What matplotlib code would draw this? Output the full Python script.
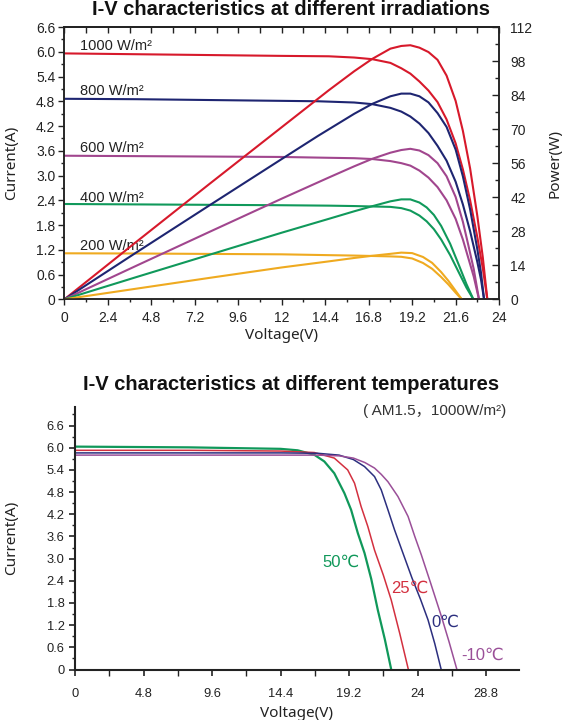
import matplotlib
matplotlib.use("Agg")
import matplotlib.pyplot as plt
from matplotlib.ticker import MultipleLocator

plt.rcParams['font.family'] = ['Liberation Sans', 'DejaVu Sans']

# ---------------- data: top chart (irradiation) ----------------
irr_labels = ["1000 W/m²", "800 W/m²", "600 W/m²", "400 W/m²", "200 W/m²"]

v1000 = [0, 4, 8, 12, 14.6, 16, 17, 18, 18.6, 19.1, 19.6, 20.1, 20.6, 21.1, 21.6, 22.0, 22.4, 22.8, 23.1, 23.35]
i1000 = [5.96, 5.94, 5.92, 5.90, 5.89, 5.86, 5.82, 5.73, 5.60, 5.47, 5.28, 5.06, 4.78, 4.36, 3.78, 3.15, 2.40, 1.50, 0.75, 0]
p1000 = [0, 23.8, 47.4, 70.8, 86.0, 93.8, 98.9, 103.1, 104.2, 104.5, 103.5, 101.7, 98.5, 92.0, 81.6, 69.3, 53.8, 34.2, 17.3, 0]

v800 = [0, 4, 8, 12, 14, 16, 17, 18, 18.6, 19.1, 19.6, 20.1, 20.6, 21.1, 21.6, 22.0, 22.4, 22.8, 23.0, 23.17]
i800 = [4.86, 4.85, 4.83, 4.81, 4.80, 4.77, 4.73, 4.64, 4.55, 4.43, 4.26, 4.03, 3.72, 3.36, 2.85, 2.30, 1.65, 0.90, 0.48, 0]
p800 = [0, 19.4, 38.6, 57.7, 67.2, 76.3, 80.4, 83.5, 84.6, 84.6, 83.5, 81.0, 76.6, 70.9, 61.6, 50.6, 37.0, 20.5, 11.0, 0]

v600 = [0, 4, 8, 12, 14.6, 16, 17, 18, 18.6, 19.1, 19.6, 20.1, 20.6, 21.1, 21.6, 22.0, 22.3, 22.6, 22.89]
i600 = [3.48, 3.47, 3.46, 3.45, 3.43, 3.42, 3.40, 3.35, 3.30, 3.24, 3.12, 2.95, 2.72, 2.40, 1.95, 1.45, 1.00, 0.55, 0]
p600 = [0, 13.9, 27.7, 41.4, 50.1, 54.7, 57.8, 60.3, 61.4, 61.9, 61.2, 59.3, 56.0, 50.6, 42.1, 31.9, 22.3, 12.4, 0]

v400 = [0, 4, 8, 12, 14.6, 16, 17, 18, 18.6, 19.1, 19.6, 20.0, 20.4, 20.8, 21.3, 21.8, 22.2, 22.58]
i400 = [2.31, 2.30, 2.29, 2.28, 2.27, 2.26, 2.25, 2.24, 2.21, 2.15, 2.03, 1.89, 1.70, 1.45, 1.07, 0.63, 0.28, 0]
p400 = [0, 9.2, 18.3, 27.4, 33.1, 36.2, 38.3, 40.3, 41.1, 41.1, 39.8, 37.8, 34.7, 30.2, 22.8, 13.7, 6.2, 0]

v200 = [0, 4, 8, 12, 14.6, 16, 17, 18, 18.6, 19.2, 19.8, 20.3, 20.8, 21.2, 21.6, 21.94]
i200 = [1.115, 1.11, 1.10, 1.09, 1.07, 1.06, 1.05, 1.04, 1.03, 0.99, 0.88, 0.74, 0.54, 0.36, 0.16, 0]
p200 = [0, 4.4, 8.8, 13.1, 15.6, 17.0, 17.9, 18.7, 19.2, 19.0, 17.4, 15.0, 11.2, 7.6, 3.5, 0]

top_xticks = [0, 2.4, 4.8, 7.2, 9.6, 12, 14.4, 16.8, 19.2, 21.6, 24]
top_xticklabels = ["0", "2.4", "4.8", "7.2", "9.6", "12", "14.4", "16.8", "19.2", "21.6", "24"]
top_yticks = [0, 0.6, 1.2, 1.8, 2.4, 3.0, 3.6, 4.2, 4.8, 5.4, 6.0, 6.6]
top_yticklabels = ["0", "0.6", "1.2", "1.8", "2.4", "3.0", "3.6", "4.2", "4.8", "5.4", "6.0", "6.6"]
power_ticks = [0, 14, 28, 42, 56, 70, 84, 98, 112]
power_ticklabels = ["0", "14", "28", "42", "56", "70", "84", "98", "112"]

# ---------------- data: bottom chart (temperature) ----------------
temp_labels = ["50℃", "25℃", "0℃", "-10℃"]

v50 = [0, 8, 14.4, 15.6, 16.76, 17.46, 18.16, 18.87, 19.34, 19.81, 20.28, 20.75, 21.21, 21.7, 22.15]
i50 = [6.03, 6.01, 5.97, 5.93, 5.81, 5.63, 5.31, 4.77, 4.32, 3.69, 3.15, 2.45, 1.61, 0.82, 0]

v25 = [0, 8, 14.4, 16.76, 18.16, 19.1, 19.58, 20.04, 20.51, 20.98, 21.6, 22.15, 22.75, 23.35]
i25 = [5.93, 5.93, 5.91, 5.87, 5.72, 5.40, 5.04, 4.41, 3.87, 3.23, 2.55, 1.88, 0.97, 0]

v0 = [0, 8, 14.4, 17, 18.5, 19.5, 20.28, 20.98, 21.45, 21.92, 22.38, 22.97, 23.6, 24.2, 24.73, 25.2, 25.65]
i0 = [5.86, 5.86, 5.86, 5.85, 5.80, 5.68, 5.49, 5.22, 4.86, 4.32, 3.78, 3.15, 2.48, 1.90, 1.34, 0.70, 0]

vm10 = [0, 8, 14.4, 17, 18.5, 19.5, 20.3, 20.98, 21.45, 21.92, 22.62, 23.33, 23.8, 24.26, 24.9, 25.67, 26.2, 26.75]
im10 = [5.80, 5.80, 5.80, 5.80, 5.78, 5.72, 5.60, 5.45, 5.28, 5.08, 4.68, 4.14, 3.60, 3.10, 2.35, 1.43, 0.75, 0]

bot_xticks = [0, 4.8, 9.6, 14.4, 19.2, 24, 28.8]
bot_xticklabels = ["0", "4.8", "9.6", "14.4", "19.2", "24", "28.8"]
bot_yticks = [0, 0.6, 1.2, 1.8, 2.4, 3.0, 3.6, 4.2, 4.8, 5.4, 6.0, 6.6]
bot_yticklabels = ["0", "0.6", "1.2", "1.8", "2.4", "3.0", "3.6", "4.2", "4.8", "5.4", "6.0", "6.6"]

# ---------------- styles ----------------
top_colors = ['#d7192b', '#1e2571', '#a1468e', '#10995b', '#efaa20']
bot_colors = ['#10985a', '#d3303f', '#2c2f7f', '#9a4f98']
dark = '#222222'
label_font = ['Noto Sans', 'DejaVu Sans']

fig = plt.figure(figsize=(5.67, 7.2), dpi=100)

# ================= top chart =================
W, H = 567.0, 720.0
ax = fig.add_axes([64.4 / W, 1 - 299.3 / H, (499.1 - 64.4) / W, (299.3 - 27) / H])
ax.set_xlim(0, 24)
ax.set_ylim(0, 6.6)
ax2 = ax.twinx()
ax2.set_ylim(0, 112)

ivs = [(v1000, i1000, p1000), (v800, i800, p800), (v600, i600, p600),
       (v400, i400, p400), (v200, i200, p200)]
for (v, i, p), c in zip(ivs, top_colors):
    ax.plot(v, i, color=c, lw=1.5, solid_joinstyle='round')
    ax2.plot(v, p, color=c, lw=1.5, solid_joinstyle='round')

ax.set_xticks(top_xticks)
ax.set_xticklabels(top_xticklabels)
ax.xaxis.set_minor_locator(MultipleLocator(1.2))
ax.set_yticks(top_yticks)
ax.set_yticklabels(top_yticklabels)
ax.yaxis.set_minor_locator(MultipleLocator(0.3))
ax.tick_params(axis='both', which='major', direction='out', length=4.5, width=1.0,
               labelsize=10, colors=dark, pad=2)
ax.tick_params(axis='both', which='minor', direction='out', length=2.5, width=1.0, colors=dark)
ax.tick_params(axis='x', pad=4)

ax2.set_yticks(power_ticks)
ax2.set_yticklabels(power_ticklabels)
ax2.yaxis.set_minor_locator(MultipleLocator(7))
ax2.tick_params(axis='y', which='major', direction='in', length=5, width=1.0,
                labelsize=10, colors=dark, pad=8)
ax2.tick_params(axis='y', which='minor', direction='in', length=3, width=1.0, colors=dark)

sec = ax.secondary_xaxis('top')
sec.set_xticks(top_xticks)
sec.xaxis.set_minor_locator(MultipleLocator(1.2))
sec.tick_params(axis='x', which='major', direction='in', length=4, width=1.0, labeltop=False, colors=dark)
sec.tick_params(axis='x', which='minor', direction='in', length=4, width=1.0, colors=dark)

for a in (ax, ax2, sec):
    for s in a.spines.values():
        s.set_linewidth(1.1)
        s.set_color(dark)

ax.set_xlabel("Voltage(V)", family=label_font, fontsize=11, color=dark, labelpad=2)
ax.set_ylabel("Current(A)", family=label_font, fontsize=11, color=dark, labelpad=12)
ax2.set_ylabel("Power(W)", family=label_font, fontsize=11, color=dark, labelpad=11)

label_pos_v = [0.86, 0.86, 0.86, 0.86, 0.86]
label_pos_i = [6.15, 5.06, 3.67, 2.45, 1.29]
for t, xv, yv in zip(irr_labels, label_pos_v, label_pos_i):
    ax.text(xv, yv, t, fontsize=10.5, color=dark, va='center', ha='left', zorder=5)

fig.text(0.513, 1 - 15 / H, "I-V characteristics at different irradiations",
         fontsize=14.5, fontweight='bold', ha='center', va='baseline', color='#111111')

# ================= bottom chart =================
bx = fig.add_axes([75 / W, 1 - 669.5 / H, (519 - 75) / W, (669.5 - 406.7) / H])
bx.set_xlim(0, 31.1)
bx.set_ylim(0, 7.11)
temps = [(v50, i50), (v25, i25), (v0, i0), (vm10, im10)]
lws = [1.6, 1.1, 1.1, 1.1]
for (v, i), c, lw in zip(temps, bot_colors, lws):
    bx.plot(v, i, color=c, lw=lw, solid_joinstyle='round')

bx.spines['top'].set_visible(False)
bx.spines['right'].set_visible(False)
for s in ('left', 'bottom'):
    bx.spines[s].set_linewidth(1.5)
    bx.spines[s].set_color(dark)

bx.set_xticks(bot_xticks)
bx.set_xticklabels(bot_xticklabels)
bx.xaxis.set_minor_locator(MultipleLocator(2.4))
bx.set_yticks(bot_yticks)
bx.set_yticklabels(bot_yticklabels)
bx.yaxis.set_minor_locator(MultipleLocator(0.3))
bx.tick_params(axis='both', which='major', direction='out', length=4.5, width=1.2,
               labelsize=9.3, colors=dark, pad=3)
bx.tick_params(axis='both', which='minor', direction='out', length=3, width=1.0, colors=dark)
bx.tick_params(axis='y', which='minor', length=2.5)
bx.tick_params(axis='x', which='minor', length=4.5)
bx.tick_params(axis='x', which='major', pad=9)

bx.set_xlabel("Voltage(V)", family=label_font, fontsize=11, color=dark, labelpad=4)
bx.set_ylabel("Current(A)", family=label_font, fontsize=11, color=dark, labelpad=20)

tlab_v = [17.3, 22.15, 24.96, 27.07]
tlab_i = [2.89, 2.21, 1.29, 0.39]
for t, xv, yv, c in zip(temp_labels, tlab_v, tlab_i, bot_colors):
    bx.text(xv, yv, t, fontsize=12, color=c, ha='left', va='center',
            family=['Liberation Sans', 'DejaVu Sans'])

bx.text(0.971, 0.984, "( AM1.5，1000W/m²)", transform=bx.transAxes, ha='right', va='center',
        fontsize=11, color='#333333', family=['Liberation Sans', 'Noto Sans CJK SC', 'DejaVu Sans'])

fig.text(0.513, 1 - 389.5 / H, "I-V characteristics at different temperatures",
         fontsize=14.5, fontweight='bold', ha='center', va='baseline', color='#111111')

fig.savefig("out.png", dpi=100)
